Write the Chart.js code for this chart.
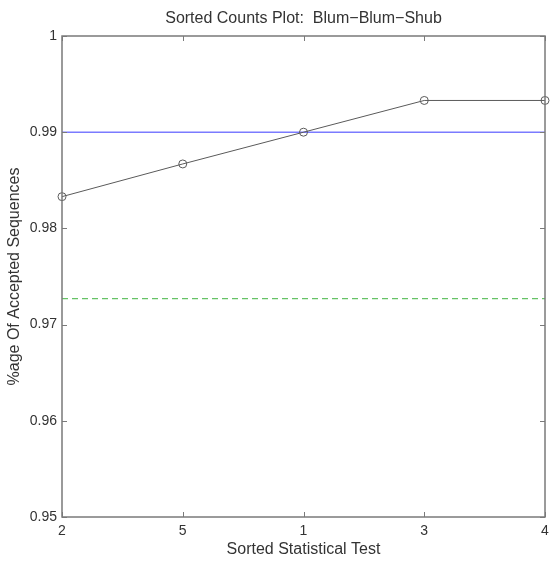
<!DOCTYPE html>
<html>
<head>
<meta charset="utf-8">
<script src="https://cdn.jsdelivr.net/npm/chart.js@4/dist/chart.umd.min.js"></script>
<style>
  html, body { margin: 0; padding: 0; background: #fff; }
  #wrap { width: 550px; height: 563px; }
</style>
</head>
<body>
<div id="wrap"><canvas id="c" width="550" height="563"></canvas></div>
<script>
const categories = ['2', '5', '1', '3', '4'];
const acceptedRate = [0.9833, 0.9867, 0.99, 0.9933, 0.9933];
const blueLevel = 0.99;
const greenLevel = 0.9727;
const yMin = 0.95, yMax = 1.0, yStep = 0.01;

const FONT = "'Liberation Sans', Arial, Helvetica, sans-serif";
const AXIS_COLOR = '#7a7a7a';
const TEXT_COLOR = '#333';

const frameAndTicks = {
  id: 'frameAndTicks',
  afterDatasetsDraw(chart) {
    const { ctx, chartArea: a, scales } = chart;
    ctx.save();
    ctx.strokeStyle = AXIS_COLOR;
    ctx.lineWidth = 1;
    const L = 5;
    ctx.beginPath();
    scales.x.ticks.forEach((t, i) => {
      const px = Math.round(scales.x.getPixelForTick(i)) + 0.5;
      ctx.moveTo(px, a.bottom); ctx.lineTo(px, a.bottom - L);
      ctx.moveTo(px, a.top); ctx.lineTo(px, a.top + L);
    });
    scales.y.ticks.forEach((t, i) => {
      const py = Math.round(scales.y.getPixelForTick(i)) + 0.5;
      ctx.moveTo(a.left, py); ctx.lineTo(a.left + L, py);
      ctx.moveTo(a.right, py); ctx.lineTo(a.right - L, py);
    });
    ctx.stroke();
    ctx.lineWidth = 1.5;
    ctx.strokeRect(a.left, a.top, a.right - a.left, a.bottom - a.top);
    ctx.restore();
  }
};

new Chart(document.getElementById('c'), {
  type: 'line',
  data: {
    labels: categories,
    datasets: [
      {
        label: 'Threshold',
        data: categories.map(() => blueLevel),
        borderColor: '#7b7bff',
        borderWidth: 1.5,
        pointRadius: 0,
        fill: false,
        order: 3
      },
      {
        label: 'Lower bound',
        data: categories.map(() => greenLevel),
        borderColor: '#66c266',
        borderWidth: 1.2,
        borderDash: [6, 4],
        pointRadius: 0,
        fill: false,
        order: 2
      },
      {
        label: 'Accepted',
        data: acceptedRate,
        borderColor: '#5a5a5a',
        borderWidth: 1,
        pointRadius: 4,
        pointStyle: 'circle',
        pointBackgroundColor: 'rgba(255,255,255,0)',
        pointBorderColor: '#5a5a5a',
        pointBorderWidth: 1,
        fill: false,
        clip: false,
        order: 1
      }
    ]
  },
  options: {
    responsive: false,
    animation: false,
    devicePixelRatio: 1,
    layout: { padding: { left: 0, right: 5, top: 0, bottom: 0 } },
    plugins: {
      legend: { display: false },
      tooltip: { enabled: false },
      title: {
        display: true,
        fullSize: false,
        text: 'Sorted Counts Plot:  Blum\u2212Blum\u2212Shub',
        color: TEXT_COLOR,
        font: { family: FONT, size: 16, weight: 'normal', lineHeight: 1.2 },
        padding: { top: 9, bottom: 7.8 }
      }
    },
    scales: {
      x: {
        type: 'category',
        offset: false,
        grid: { display: false, drawTicks: false },
        border: { display: false },
        ticks: {
          color: TEXT_COLOR,
          font: { family: FONT, size: 14 },
          padding: 6,
          maxRotation: 0,
          autoSkip: false
        },
        title: {
          display: true,
          text: 'Sorted Statistical Test',
          color: TEXT_COLOR,
          font: { family: FONT, size: 16, lineHeight: 1.2 },
          padding: { top: 0, bottom: 3.4 }
        },
        afterFit(scale) {
          scale.height = 46;
          scale.paddingLeft = 0;
          scale.paddingRight = 0;
        }
      },
      y: {
        min: yMin,
        max: yMax,
        grid: { display: false, drawTicks: false },
        border: { display: false },
        ticks: {
          stepSize: yStep,
          color: TEXT_COLOR,
          font: { family: FONT, size: 14 },
          padding: 5,
          callback: (v) => String(Number(v.toFixed(2)))
        },
        title: {
          display: true,
          text: '%age Of Accepted Sequences',
          color: TEXT_COLOR,
          font: { family: FONT, size: 16, lineHeight: 1.2 },
          padding: { top: 5.4, bottom: 0 }
        },
        afterFit(scale) {
          scale.width = 62;
          scale.paddingTop = 0;
          scale.paddingBottom = 0;
        }
      }
    }
  },
  plugins: [frameAndTicks]
});
</script>
</body>
</html>
